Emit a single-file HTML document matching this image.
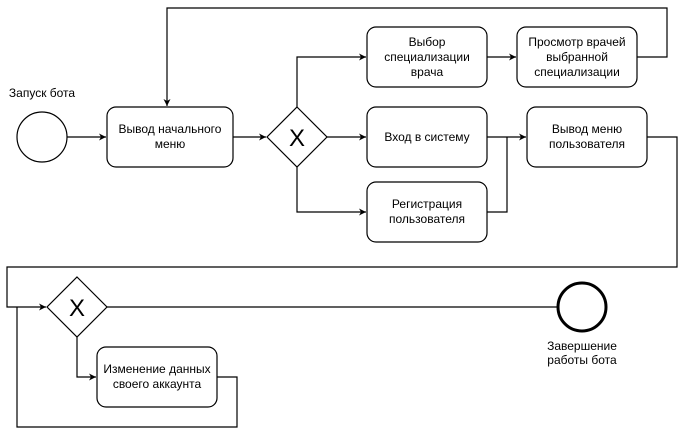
<!DOCTYPE html>
<html><head><meta charset="utf-8"><style>html,body{margin:0;padding:0;background:#fff;}svg{display:block}</style></head>
<body>
<svg width="687" height="430" viewBox="0 0 687 430" xmlns="http://www.w3.org/2000/svg" font-family="Liberation Sans, Arial, sans-serif" font-size="12">
<defs><marker id="a" markerWidth="8" markerHeight="8" refX="7" refY="4" orient="auto" markerUnits="userSpaceOnUse"><path d="M0,0.5 L7,4 L0,7.5 L2,4 Z" fill="#000"/></marker></defs>
<g fill="none" stroke="#000" stroke-width="1.2">
<circle cx="42" cy="137" r="25"/>
<rect x="107" y="107" width="126" height="60" rx="9"/>
<rect x="367" y="27" width="120" height="60" rx="9"/>
<rect x="517" y="27" width="120" height="60" rx="9"/>
<rect x="367" y="107" width="120" height="60" rx="9"/>
<rect x="527" y="107" width="120" height="60" rx="9"/>
<rect x="367" y="182" width="120" height="60" rx="9"/>
<rect x="97" y="347" width="120" height="60" rx="9"/>
<path d="M297,107 L327,137 L297,167 L267,137 Z"/>
<path d="M77,277 L107,307 L77,337 L47,307 Z"/>
<circle cx="582" cy="307" r="24" stroke-width="3"/>
<path d="M67,137 L106,137" marker-end="url(#a)"/>
<path d="M233,137 L266,137" marker-end="url(#a)"/>
<path d="M327,137 L366,137" marker-end="url(#a)"/>
<path d="M297,107 L297,57 L366,57" marker-end="url(#a)"/>
<path d="M297,167 L297,212 L366,212" marker-end="url(#a)"/>
<path d="M487,57 L516,57" marker-end="url(#a)"/>
<path d="M637,57 L667,57 L667,8 L167,8 L167,106" marker-end="url(#a)"/>
<path d="M487,137 L526,137" marker-end="url(#a)"/>
<path d="M487,212 L507,212 L507,137"/>
<path d="M647,137 L677,137 L677,267 L7,267 L7,307 L46,307" marker-end="url(#a)"/>
<path d="M107,307 L558,307"/>
<path d="M77,337 L77,377 L96,377" marker-end="url(#a)"/>
<path d="M217,377 L237,377 L237,427 L17,427 L17,307"/>
</g>
<g text-anchor="middle" fill="#000">
<text x="42" y="97">Запуск бота</text>
<text x="170" y="133">Вывод начального</text><text x="170" y="148">меню</text>
<text x="427" y="46">Выбор</text><text x="427" y="61">специализации</text><text x="427" y="76">врача</text>
<text x="577" y="46">Просмотр врачей</text><text x="577" y="61">выбранной</text><text x="577" y="76">специализации</text>
<text x="427" y="141">Вход в систему</text>
<text x="587" y="133">Вывод меню</text><text x="587" y="148">пользователя</text>
<text x="427" y="208">Регистрация</text><text x="427" y="223">пользователя</text>
<text x="157" y="373">Изменение данных</text><text x="157" y="388">своего аккаунта</text>
<text x="582" y="350">Завершение</text><text x="582" y="364">работы бота</text>
<text x="297" y="146" font-size="24">X</text>
<text x="77" y="316" font-size="24">X</text>
</g>
</svg>
</body></html>
